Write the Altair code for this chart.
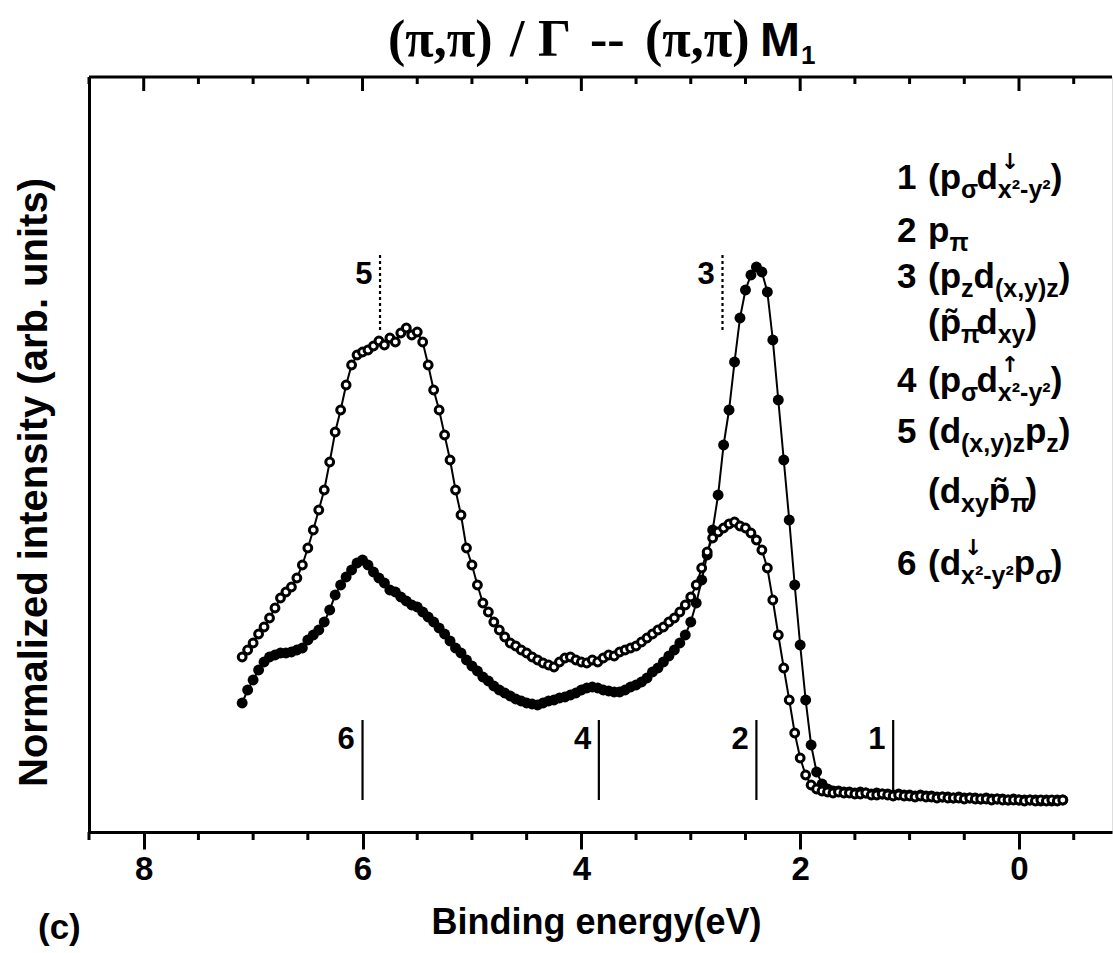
import altair as alt
import pandas as pd

# ---------------- data ----------------
ENERGY = [
    7.10, 7.05, 7.00, 6.95, 6.90, 6.85, 6.80, 6.75, 6.70, 6.65,
    6.60, 6.55, 6.50, 6.45, 6.40, 6.35, 6.30, 6.25, 6.20, 6.15,
    6.10, 6.05, 6.00, 5.95, 5.90, 5.85, 5.80, 5.75, 5.70, 5.65,
    5.60, 5.55, 5.50, 5.45, 5.40, 5.35, 5.30, 5.25, 5.20, 5.15,
    5.10, 5.05, 5.00, 4.95, 4.90, 4.85, 4.80, 4.75, 4.70, 4.65,
    4.60, 4.55, 4.50, 4.45, 4.40, 4.35, 4.30, 4.25, 4.20, 4.15,
    4.10, 4.05, 4.00, 3.95, 3.90, 3.85, 3.80, 3.75, 3.70, 3.65,
    3.60, 3.55, 3.50, 3.45, 3.40, 3.35, 3.30, 3.25, 3.20, 3.15,
    3.10, 3.05, 3.00, 2.95, 2.90, 2.85, 2.80, 2.75, 2.70, 2.65,
    2.60, 2.55, 2.50, 2.45, 2.40, 2.35, 2.30, 2.25, 2.20, 2.15,
    2.10, 2.05, 2.00, 1.95, 1.90, 1.85, 1.80, 1.75, 1.70, 1.65,
    1.60, 1.55, 1.50, 1.45, 1.40, 1.35, 1.30, 1.25, 1.20, 1.15,
    1.10, 1.05, 1.00, 0.95, 0.90, 0.85, 0.80, 0.75, 0.70, 0.65,
    0.60, 0.55, 0.50, 0.45, 0.40, 0.35, 0.30, 0.25, 0.20, 0.15,
    0.10, 0.05, 0.00, -0.05, -0.10, -0.15, -0.20, -0.25, -0.30, -0.35,
    -0.40,
]

OPEN_I = [
    175, 182, 189, 198, 205, 214, 224, 234, 240, 245,
    254, 267, 284, 302, 322, 342, 370, 400, 422, 447,
    467, 477, 480, 482, 486, 491, 487, 494, 490, 499,
    504, 497, 500, 490, 467, 442, 422, 397, 372, 342,
    317, 284, 267, 247, 229, 220, 210, 202, 195, 189,
    186, 182, 179, 175, 172, 169, 167, 165, 170, 174,
    175, 172, 170, 169, 172, 170, 174, 177, 176, 180,
    182, 184, 186, 190, 194, 198, 202, 205, 210, 214,
    220, 227, 235, 247, 264, 280, 294, 300, 304, 308,
    310, 306, 304, 299, 292, 282, 264, 232, 197, 164,
    132, 99, 74, 57, 47, 43, 41, 40, 39, 40,
    39, 39, 38, 38, 39, 37, 37, 38, 37, 36,
    37, 36, 36, 35, 36, 35, 35, 34, 35, 34,
    34, 34, 33, 34, 33, 33, 33, 32, 33, 32,
    32, 32, 32, 31, 32, 31, 32, 31, 32, 31,
    32,
]

FILLED_I = [
    129, 142, 152, 162, 170, 175, 177, 179, 179, 180,
    182, 184, 192, 197, 202, 210, 222, 237, 247, 255,
    262, 269, 272, 267, 260, 254, 249, 242, 240, 235,
    231, 227, 225, 220, 215, 210, 204, 198, 191, 184,
    179, 172, 166, 161, 155, 151, 146, 142, 139, 136,
    133, 131, 129, 128, 127, 129, 131, 132, 134, 135,
    137, 139, 142, 144, 145, 144, 142, 141, 140, 140,
    142, 145, 147, 150, 154, 160, 164, 170, 176, 182,
    189, 197, 210, 229, 252, 277, 302, 337, 387, 422,
    470, 514, 542, 557, 565, 560, 540, 492, 432, 372,
    312, 247, 187, 132, 87, 60, 48, 43, 41, 41,
    40, 40, 39, 40, 39, 38, 39, 38, 38, 37,
    38, 37, 37, 36, 37, 36, 36, 35, 35, 35,
    34, 35, 34, 34, 34, 33, 34, 33, 33, 33,
    32, 33, 32, 32, 32, 32, 31, 32, 31, 32,
    32,
]

MAJOR_TICKS = [8, 6, 4, 2, 0]
MINOR_TICKS = [8.5, 7.5, 7, 6.5, 5.5, 5, 4.5, 3.5, 3, 2.5, 1.5, 1, 0.5, -0.5]

SOLID_E = [6.00, 3.84, 2.40, 1.15]
SOLID_LBL = ["6", "4", "2", "1"]
SOLID_LO = [32, 32, 32, 42]
SOLID_HI = [112, 112, 112, 112]

DOT_E = [5.84, 2.71]
DOT_LBL = ["5", "3"]
DOT_LO = [502, 502]
DOT_HI = [577, 577]

# ---------------- geometry ----------------
L, T, W, H = 89, 77, 1023, 755
E0, E1 = 8.5, -0.85
I0, I1 = 0, 755


def px2E(px):
    return E0 + (px - L) * (E1 - E0) / W


def py2I(py):
    return I0 + (T + H - py) * (I1 - I0) / H


xs = alt.Scale(domain=[E0, E1], nice=False, zero=False)
ys = alt.Scale(domain=[I0, I1], nice=False, zero=False)
SANS = "Liberation Sans"
SERIF = "Liberation Serif"

x_axis = alt.Axis(
    values=MAJOR_TICKS, format="d", tickSize=17, tickWidth=3, tickColor="black",
    domainWidth=3, domainColor="black", grid=False, labelFont=SANS,
    labelFontSize=33, labelFontWeight="bold", labelColor="black",
    labelPadding=4, labelOverlap=False, labelFlush=False,
    title="Binding energy(eV)", titleFont=SANS, titleFontSize=36,
    titleFontWeight="bold", titleColor="black", titleX=507, titleY=101,
    titleBaseline="alphabetic", titleAlign="center",
)
y_axis = alt.Axis(
    labels=False, ticks=False, grid=False, domain=True, domainWidth=3,
    domainColor="black", title="Normalized intensity (arb. units)",
    titleFont=SANS, titleFontSize=40, titleFontWeight="bold",
    titleColor="black", titleAngle=270, titleX=-43, titleY=405,
    titleBaseline="alphabetic", titleAlign="center",
)


def X():
    return alt.X("E:Q", scale=xs, axis=x_axis)


def Y():
    return alt.Y("I:Q", scale=ys, axis=y_axis)


df_open = pd.DataFrame({"E": ENERGY, "I": OPEN_I})
df_fill = pd.DataFrame({"E": ENERGY, "I": FILLED_I})

fill_line = alt.Chart(df_fill).mark_line(color="black", strokeWidth=2).encode(x=X(), y=Y())
fill_pts = alt.Chart(df_fill).mark_circle(color="black", size=120, opacity=1).encode(x=X(), y=Y())
open_line = alt.Chart(df_open).mark_line(color="black", strokeWidth=2).encode(x=X(), y=Y())
open_pts = alt.Chart(df_open).mark_point(
    shape="circle", filled=True, fill="white", stroke="black",
    strokeWidth=3, size=62, opacity=1,
).encode(x=X(), y=Y())

# peak markers
df_solid = pd.DataFrame({"E": SOLID_E, "I": SOLID_LO, "I2": SOLID_HI, "t": SOLID_LBL})
df_dot = pd.DataFrame({"E": DOT_E, "I": DOT_LO, "I2": DOT_HI, "t": DOT_LBL})
solid_rules = alt.Chart(df_solid).mark_rule(color="black", strokeWidth=2.2).encode(
    x=X(), y=Y(), y2="I2:Q")
dot_rules = alt.Chart(df_dot).mark_rule(color="black", strokeWidth=2.2, strokeDash=[3, 3]).encode(
    x=X(), y=Y(), y2="I2:Q")

lbl_rows = []
for e, t in zip(SOLID_E, SOLID_LBL):
    lbl_rows.append({"E": e + 0.07, "I": py2I(749), "t": t})
for e, t in zip(DOT_E, DOT_LBL):
    lbl_rows.append({"E": e + 0.07, "I": py2I(284), "t": t})
peak_lbls = alt.Chart(pd.DataFrame(lbl_rows)).mark_text(
    align="right", baseline="alphabetic", font=SANS, fontWeight="bold",
    fontSize=31, color="black").encode(x=X(), y=Y(), text="t:N")

# ticks and top frame
df_minor = pd.DataFrame({"E": MINOR_TICKS})
df_major = pd.DataFrame({"E": MAJOR_TICKS})
bot_minor = alt.Chart(df_minor).mark_rule(color="black", strokeWidth=3).encode(
    x=X(), y=alt.value(H), y2=alt.value(H + 8))
top_minor = alt.Chart(df_minor).mark_rule(color="black", strokeWidth=3).encode(
    x=X(), y=alt.value(0), y2=alt.value(7))
top_major = alt.Chart(df_major).mark_rule(color="black", strokeWidth=3).encode(
    x=X(), y=alt.value(0), y2=alt.value(14))
top_frame = alt.Chart(pd.DataFrame({"E": [E0], "E2": [E1]})).mark_rule(
    color="black", strokeWidth=3).encode(x=X(), x2="E2:Q", y=alt.value(0))

# ---------------- legend text (right side) ----------------
CW = {"0": .556, "1": .556, "2": .556, "3": .556, "4": .556, "5": .556, "6": .556,
      "(": .333, ")": .333, "p": .611, "d": .611, "x": .556, "y": .556, "z": .5,
      ",": .278, "-": .333, "²": .333, "σ": .617, "π": .61, " ": .278,
      "p\u0303": .611}


def tw(s, size):
    if s in CW:
        return CW[s] * size
    return sum(CW.get(c, .6) for c in s) * size


F, S = 35, 25
NUM_X, PAREN_X = 897, 928
PT = "p\u0303"
LEG = [
    ("1", 189, [("(", "n"), ("p", "n"), ("σ", "b"), ("d", "n"), ("↓", "a"), ("x²-y²", "b"), (")", "n")]),
    ("2", 242, [("p", "n"), ("π", "b")]),
    ("3", 288, [("(", "n"), ("p", "n"), ("z", "b"), ("d", "n"), ("(x,y)z", "b"), (")", "n")]),
    ("", 334, [("(", "n"), (PT, "n"), ("π", "b"), ("d", "n"), ("xy", "b"), (")", "n")]),
    ("4", 392, [("(", "n"), ("p", "n"), ("σ", "b"), ("d", "n"), ("↑", "a"), ("x²-y²", "b"), (")", "n")]),
    ("5", 443, [("(", "n"), ("d", "n"), ("(x,y)z", "b"), ("p", "n"), ("z", "b"), (")", "n")]),
    ("", 503, [("(", "n"), ("d", "n"), ("xy", "b"), (PT, "n"), ("π", "b"), (")", "n")]),
    ("6", 575, [("(", "n"), ("d", "n"), ("↓", "a"), ("x²-y²", "b"), ("p", "n"), ("σ", "b"), (")", "n")]),
]

rows, arrows = [], []
for num, base, toks in LEG:
    if num:
        rows.append({"E": px2E(NUM_X), "I": py2I(base), "t": num, "s": F})
    cur = PAREN_X
    for txt, kind in toks:
        if kind == "n":
            rows.append({"E": px2E(cur), "I": py2I(base), "t": txt, "s": F})
            cur += tw(txt, F)
        elif kind == "b":
            rows.append({"E": px2E(cur), "I": py2I(base + 9), "t": txt, "s": S})
            cur += tw(txt, S)
        elif kind == "a":
            arrows.append({"E": px2E(cur + 3), "I": py2I(base - 20), "t": txt})

# title & panel letter (sans parts)
rows.append({"E": px2E(760), "I": py2I(56), "t": "M", "s": 48})
rows.append({"E": px2E(801), "I": py2I(64), "t": "1", "s": 26})
rows.append({"E": px2E(38), "I": py2I(939), "t": "(c)", "s": 35})

sans_text = alt.Chart(pd.DataFrame(rows)).mark_text(
    align="left", baseline="alphabetic", font=SANS, fontWeight="bold", color="black"
).encode(x=X(), y=Y(), text="t:N", size=alt.Size("s:Q", scale=None, legend=None))

arrow_text = alt.Chart(pd.DataFrame(arrows)).mark_text(
    align="left", baseline="alphabetic", font="DejaVu Sans", fontWeight="bold",
    fontSize=22, color="black").encode(x=X(), y=Y(), text="t:N")

serif_rows = [
    {"E": px2E(388), "I": py2I(56), "t": "(π,π)"},
    {"E": px2E(510), "I": py2I(56), "t": "/"},
    {"E": px2E(538), "I": py2I(56), "t": "Γ"},
    {"E": px2E(590), "I": py2I(56), "t": "--"},
    {"E": px2E(645), "I": py2I(56), "t": "(π,π)"},
]
serif_text = alt.Chart(pd.DataFrame(serif_rows)).mark_text(
    align="left", baseline="alphabetic", font=SERIF, fontWeight="bold",
    fontSize=52, color="black").encode(x=X(), y=Y(), text="t:N")

chart = alt.layer(
    fill_line, fill_pts, open_line, open_pts,
    solid_rules, dot_rules, peak_lbls,
    bot_minor, top_minor, top_major, top_frame,
    sans_text, arrow_text, serif_text,
).properties(
    width=W, height=H,
    padding={"left": L, "top": T, "right": 1113 - L - W, "bottom": 953 - T - H},
    autosize=alt.AutoSizeParams(type="none"),
).configure_view(strokeWidth=0).configure(background="white")

chart.save("out.html", embed_options={"renderer": "svg", "actions": False})
